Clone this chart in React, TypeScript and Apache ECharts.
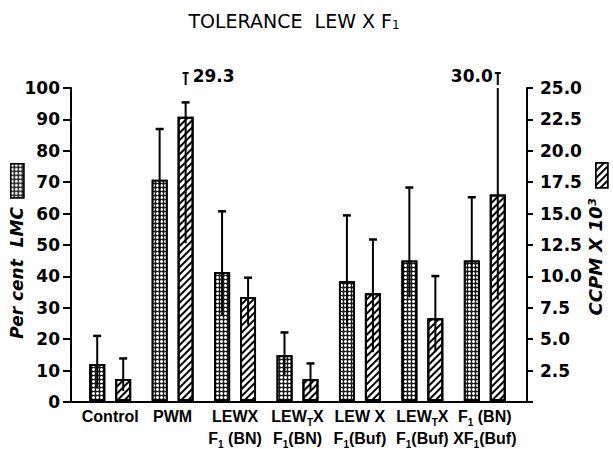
import React, { useEffect, useRef } from 'react';
import * as echarts from 'echarts';

// ---- data ----
const categories = [
  'Control',
  'PWM',
  'LEWX\nF{s|1} (BN)',
  'LEW{s|T}X\nF{s|1}(BN)',
  'LEW X\nF{s|1}(Buf)',
  'LEW{s|T}X\nF{s|1}(Buf)',
  'F{s|1} (BN)\nXF{s|1}(Buf)',
];
// Percent LMC (left axis)
const lmcMean = [11.8, 70.7, 41.2, 14.6, 38.3, 44.9, 44.9];
const lmcUpper = [20.8, 86.9, 60.6, 21.9, 59.3, 68.2, 65.1];
const lmcLower = [4.0, 46.3, 27.2, 8.0, 24.0, 33.1, 31.9];
// CCPM x 10^3 (right axis)
const ccpmMean = [1.75, 22.7, 8.3, 1.75, 8.6, 6.6, 16.5];
const ccpmUpper = [3.4, 29.3, 9.85, 3.0, 12.9, 9.98, 30.0];
const ccpmLower = [0.8, 12.6, 6.1, 0.8, 3.9, 3.9, 8.1];
const ccpmBreak = [null, 23.85, null, null, null, null, 25];
const ccpmOffLabels = [null, '29.3', null, null, null, null, '30.0'];

const leftTicks = { min: 0, max: 100, interval: 10 };
const rightTicks = { min: 0, max: 25, interval: 2.5 };

const LABEL_FONT = '"Liberation Sans", Arial, sans-serif';
const NUM_FONT = '"DejaVu Sans", sans-serif';

const stippleDecal = {
  symbol: 'circle',
  symbolSize: 1,
  color: '#ffffff',
  dashArrayX: [[2.4, 1]],
  dashArrayY: [2.4, 1],
  rotation: 0,
};
const hatchDecal = {
  symbol: 'rect',
  symbolSize: 1,
  color: '#000000',
  dashArrayX: [[1, 0]],
  dashArrayY: [1.5, 2.4],
  rotation: -Math.PI / 4,
};

function errorSeries(
  name: string,
  means: number[],
  uppers: number[],
  lowers: number[],
  breaks: (number | null)[] | null,
  labels: (string | null)[] | null,
  yAxisIndex: number,
  dx: number,
  axisMax: number
) {
  return {
    type: 'custom',
    name,
    xAxisIndex: 1,
    yAxisIndex,
    clip: false,
    z: 5,
    silent: true,
    data: means.map((m, i) => [i, m, uppers[i], lowers[i]]),
    renderItem: (params: any, api: any) => {
      const i = api.value(0);
      const brk = breaks ? breaks[i] : null;
      const up = brk != null ? brk : Math.min(api.value(2), axisMax);
      const pU = api.coord([i, up]);
      const pL = api.coord([i, api.value(3)]);
      const x = pU[0] + dx;
      const children: any[] = [
        { type: 'line', shape: { x1: x, y1: pL[1], x2: x, y2: pU[1] }, style: { stroke: '#000', lineWidth: 2 } },
      ];
      if (up < axisMax) {
        children.push({ type: 'line', shape: { x1: x - 4, y1: pU[1], x2: x + 4, y2: pU[1] }, style: { stroke: '#000', lineWidth: 2.5 } });
      }
      const lab = labels ? labels[i] : null;
      if (lab) {
        const top = api.coord([i, axisMax])[1];
        children.push({ type: 'line', shape: { x1: x, y1: top - 15, x2: x, y2: top - 3 }, style: { stroke: '#000', lineWidth: 2 } });
        children.push({ type: 'line', shape: { x1: x - 3, y1: top - 15, x2: x + 3, y2: top - 15 }, style: { stroke: '#000', lineWidth: 2 } });
        const last = i === means.length - 1;
        children.push({
          type: 'text',
          x: last ? x - 5 : x + 7,
          y: top - 12,
          style: {
            text: lab,
            fill: '#000',
            font: `bold 17px ${NUM_FONT}`,
            align: last ? 'right' : 'left',
            verticalAlign: 'middle',
          },
        });
      }
      return { type: 'group', children };
    },
  };
}

export default function App() {
  const ref = useRef<HTMLDivElement>(null);
  useEffect(() => {
    if (!ref.current) return;
    const chart = echarts.init(ref.current, undefined, { renderer: 'svg' });
    const gridTop = 88;
    const gridBottom = 47;
    const option: any = {
      animation: false,
      backgroundColor: '#ffffff',
      grid: [
        { left: 71, right: 86, top: gridTop, bottom: gridBottom },
        { left: 79, right: 97, top: gridTop, bottom: gridBottom },
      ],
      legend: [
        {
          data: [{ name: 'LMC', icon: 'rect' }],
          orient: 'vertical',
          left: 10,
          top: 163,
          padding: 0,
          itemWidth: 13,
          itemHeight: 34,
          selectedMode: false,
          formatter: () => '',
          itemStyle: { borderColor: '#000', borderWidth: 1.5 },
        },
        {
          data: [{ name: 'CCPM', icon: 'rect' }],
          orient: 'vertical',
          left: 595,
          top: 162,
          padding: 0,
          itemWidth: 12,
          itemHeight: 25,
          selectedMode: false,
          formatter: () => '',
          itemStyle: { borderColor: '#000', borderWidth: 1.5 },
        },
      ],
      xAxis: [
        {
          type: 'value',
          gridIndex: 0,
          min: 0,
          max: 1,
          axisLine: { show: true, onZero: false, lineStyle: { color: '#000', width: 2 } },
          axisTick: { show: false },
          axisLabel: { show: false },
          splitLine: { show: false },
        },
        {
          type: 'category',
          gridIndex: 1,
          data: categories,
          axisLine: { show: false },
          axisTick: { show: false },
          splitLine: { show: false },
          axisLabel: {
            interval: 0,
            color: '#000',
            fontFamily: LABEL_FONT,
            fontWeight: 'bold',
            fontSize: 16,
            lineHeight: 22,
            margin: 4,
            rich: {
              s: { fontFamily: LABEL_FONT, fontWeight: 'bold', fontSize: 10, lineHeight: 9, verticalAlign: 'bottom' },
            },
          },
        },
      ],
      yAxis: [
        {
          type: 'value',
          gridIndex: 0,
          position: 'left',
          ...leftTicks,
          axisLine: { show: true, lineStyle: { color: '#000', width: 2 } },
          axisTick: { show: true, length: 8, lineStyle: { color: '#000', width: 2 } },
          axisLabel: { color: '#000', fontFamily: NUM_FONT, fontWeight: 'bold', fontSize: 17, margin: 11 },
          splitLine: { show: false },
        },
        {
          type: 'value',
          gridIndex: 0,
          position: 'right',
          ...rightTicks,
          axisLine: { show: true, lineStyle: { color: '#000', width: 2 } },
          axisTick: { show: true, length: 6, lineStyle: { color: '#000', width: 2 } },
          axisLabel: {
            color: '#000',
            fontFamily: NUM_FONT,
            fontWeight: 'bold',
            fontSize: 17,
            margin: 13,
            formatter: (v: number) => (v === 0 ? '' : v.toFixed(1)),
          },
          splitLine: { show: false },
        },
        { type: 'value', gridIndex: 1, show: false, ...leftTicks },
        { type: 'value', gridIndex: 1, show: false, ...rightTicks },
      ],
      series: [
        {
          type: 'bar',
          name: 'LMC',
          xAxisIndex: 1,
          yAxisIndex: 2,
          data: lmcMean,
          barWidth: 16,
          barGap: '62%',
          itemStyle: { color: '#1c1c1c', borderColor: '#000', borderWidth: 2, decal: stippleDecal },
        },
        {
          type: 'bar',
          name: 'CCPM',
          xAxisIndex: 1,
          yAxisIndex: 3,
          data: ccpmMean,
          barWidth: 16,
          barGap: '62%',
          itemStyle: { color: '#fff', borderColor: '#000', borderWidth: 2, decal: hatchDecal },
        },
        errorSeries('lmcErr', lmcMean, lmcUpper, lmcLower, null, null, 2, -13, leftTicks.max),
        errorSeries('ccpmErr', ccpmMean, ccpmUpper, ccpmLower, ccpmBreak, ccpmOffLabels, 3, 13, rightTicks.max),
      ],
      graphic: [
        {
          type: 'text',
          x: 294,
          y: 21,
          style: {
            text: 'TOLERANCE  LEW X F{s|1}',
            fill: '#000',
            font: `19px ${NUM_FONT}`,
            align: 'center',
            verticalAlign: 'middle',
            rich: { s: { font: `12px ${NUM_FONT}`, fill: '#000', lineHeight: 10, verticalAlign: 'bottom' } },
          },
        },
        {
          type: 'text',
          x: 17,
          y: 273,
          rotation: Math.PI / 2,
          style: {
            text: 'Per cent  LMC',
            fill: '#000',
            font: `italic bold 17px ${NUM_FONT}`,
            align: 'center',
            verticalAlign: 'middle',
          },
        },
        {
          type: 'text',
          x: 595,
          y: 257,
          rotation: Math.PI / 2,
          style: {
            text: 'CCPM X 10³',
            fill: '#000',
            font: `italic bold 18px ${NUM_FONT}`,
            align: 'center',
            verticalAlign: 'middle',
          },
        },
      ],
    };
    chart.setOption(option);
    return () => chart.dispose();
  }, []);
  return (
    <div
      ref={ref}
      style={{ position: 'fixed', left: 0, top: 0, width: 613, height: 449, background: '#fff' }}
    />
  );
}
